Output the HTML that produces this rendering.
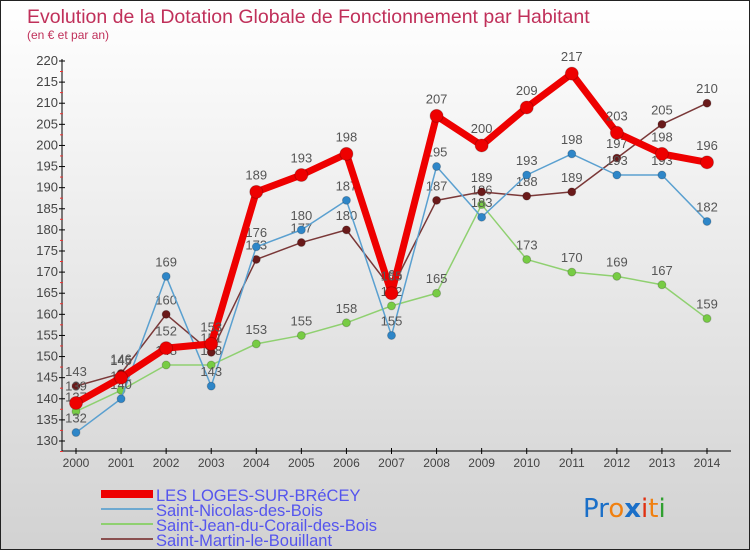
<!DOCTYPE html>
<html><head><meta charset="utf-8"><style>
body{margin:0;}
#c{width:750px;height:550px;position:relative;background:linear-gradient(#fff,#d2d2d2);font-family:"Liberation Sans",sans-serif;overflow:hidden;box-sizing:border-box;border:1px solid #222;}
</style></head><body>
<div id="c">
<svg id="s" width="750" height="550" style="position:absolute;left:0;top:0">
<text x="26" y="22" font-size="19.5" fill="#c0305a">Evolution de la Dotation Globale de Fonctionnement par Habitant</text>
<text x="26" y="38" font-size="12" fill="#c0305a">(en € et par an)</text>
<g id="ax"></g><g id="ser"></g>
<g>
<rect x="100" y="489" width="52" height="8" fill="#e00"/>
<text x="155" y="500" font-size="16.5" fill="#5555ee">LES LOGES-SUR-BRéCEY</text>
<rect x="100" y="507" width="52" height="2" fill="#6ea9d0"/>
<text x="155" y="515" font-size="16.5" fill="#5555ee">Saint-Nicolas-des-Bois</text>
<rect x="100" y="522" width="52" height="2" fill="#8fd070"/>
<text x="155" y="530" font-size="16.5" fill="#5555ee">Saint-Jean-du-Corail-des-Bois</text>
<rect x="100" y="537" width="52" height="2" fill="#8a5050"/>
<text x="155" y="545" font-size="16.5" fill="#5555ee">Saint-Martin-le-Bouillant</text>
</g>
<text x="582" y="516" font-size="26" font-family="'DejaVu Sans',sans-serif"><tspan fill="#1a6fc8">Pr</tspan><tspan fill="#f08010">o</tspan><tspan fill="#1a6fc8" font-weight="bold">x</tspan><tspan fill="#e03010">i</tspan><tspan fill="#f08010">t</tspan><tspan fill="#30a030">i</tspan></text>
</svg>
</div>
<script>
const years=[2000,2001,2002,2003,2004,2005,2006,2007,2008,2009,2010,2011,2012,2013,2014];
const loges=[139,145,152,153,189,193,198,165,207,200,209,217,203,198,196];
const nicolas=[132,140,169,143,176,180,187,155,195,183,193,198,193,193,182];
const jean=[137,142,148,148,153,155,158,162,165,186,173,170,169,167,159];
const martin=[143,146,160,151,173,177,180,166,187,189,188,189,197,205,210];
const yTicks=[130,135,140,145,150,155,160,165,170,175,180,185,190,195,200,205,210,215,220];
const NS="http://www.w3.org/2000/svg";
const X=i=>75+i*(631/14);
const Y=v=>440-(v-130)*380/90;
function mk(t,a,p){const e=document.createElementNS(NS,t);for(const k in a)e.setAttribute(k,a[k]);p.appendChild(e);return e;}
const ax=document.getElementById('ax');
let l=mk('line',{x1:61,y1:58,x2:61,y2:450,stroke:'#000'},ax);


l=mk('line',{x1:61,y1:450,x2:730,y2:450,stroke:'#000'},ax);


yTicks.forEach(v=>{
 mk('line',{x1:58,x2:64,y1:Y(v),y2:Y(v),stroke:'#000'},ax);
 mk('line',{x1:59,x2:62,y1:Y(v)+10.5,y2:Y(v)+10.5,stroke:'#e33'},ax);
 const t=mk('text',{x:57,y:Y(v)+4,'text-anchor':'end','font-size':13,fill:'#444'},ax);t.textContent=v;
 
 
});
years.forEach((yv,i)=>{
 mk('line',{x1:X(i),x2:X(i),y1:447,y2:453,stroke:'#000'},ax);
 const t=mk('text',{x:X(i),y:466,'text-anchor':'middle','font-size':12,fill:'#444'},ax);t.textContent=yv;
 
 
});
const ser=document.getElementById('ser');
function draw(vals,color,dot,w,r,name){
 const g=mk('g',{},ser);
 
 
 mk('polyline',{points:vals.map((v,i)=>X(i)+','+Y(v)).join(' '),fill:'none',stroke:color,'stroke-width':w,'stroke-linejoin':'round'},g);
 vals.forEach((v,i)=>{
  const c=mk('circle',{cx:X(i),cy:Y(v),r:r,fill:dot,stroke:'rgba(0,0,0,0.2)'},g);
  
  
  const t=mk('text',{x:X(i),y:Y(v)-(r+6),'text-anchor':'middle','font-size':13,fill:'#555'},g);t.textContent=v;
 });
}
draw(jean,'#8fd070','#77cc44',1.5,4,'series-jean');
draw(martin,'#7a3838','#6a1a1a',1.5,4,'series-martin');
draw(nicolas,'#5aa0d0','#2e86c8',1.5,4,'series-nicolas');
draw(loges,'#ee0000','#ee0000',7,6.5,'series-loges');
</script>
</body></html>
